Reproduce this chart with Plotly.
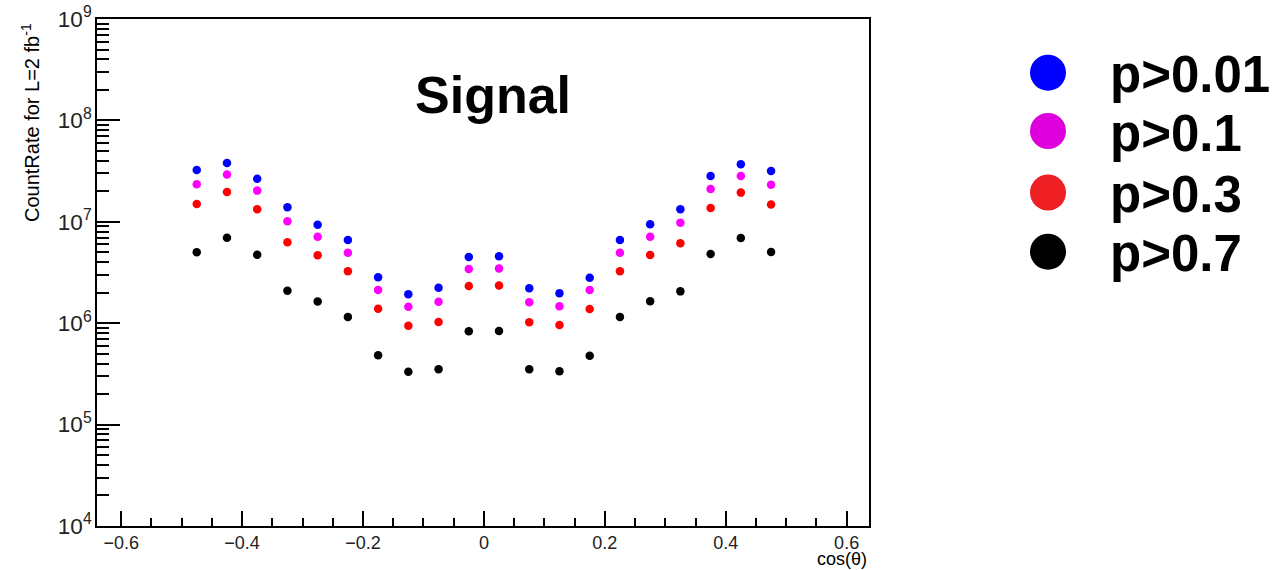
import plotly.graph_objects as go

# ---- data ----
cos_theta = [-0.475, -0.425, -0.375, -0.325, -0.275, -0.225, -0.175, -0.125, -0.075, -0.025,
             0.025, 0.075, 0.125, 0.175, 0.225, 0.275, 0.325, 0.375, 0.425, 0.475]

p001 = [3.24e7, 3.80e7, 2.66e7, 1.39e7, 9.36e6, 6.61e6, 2.84e6, 1.93e6, 2.24e6, 4.50e6,
        4.57e6, 2.21e6, 1.97e6, 2.81e6, 6.61e6, 9.44e6, 1.33e7, 2.83e7, 3.69e7, 3.17e7]
p01 = [2.34e7, 2.92e7, 2.03e7, 1.01e7, 7.13e6, 4.96e6, 2.13e6, 1.45e6, 1.63e6, 3.42e6,
       3.47e6, 1.61e6, 1.47e6, 2.12e6, 4.96e6, 7.13e6, 9.80e6, 2.11e7, 2.83e7, 2.32e7]
p03 = [1.50e7, 1.97e7, 1.33e7, 6.28e6, 4.67e6, 3.25e6, 1.39e6, 9.45e5, 1.03e6, 2.33e6,
       2.35e6, 1.02e6, 9.60e5, 1.38e6, 3.25e6, 4.70e6, 6.14e6, 1.37e7, 1.94e7, 1.48e7]
p07 = [5.00e6, 6.97e6, 4.74e6, 2.09e6, 1.64e6, 1.15e6, 4.82e5, 3.32e5, 3.51e5, 8.32e5,
       8.38e5, 3.51e5, 3.35e5, 4.78e5, 1.15e6, 1.65e6, 2.06e6, 4.82e6, 6.92e6, 5.04e6]

series_labels = ["p>0.01", "p>0.1", "p>0.3", "p>0.7"]
series_values = [p001, p01, p03, p07]
point_colors = ["#0000FF", "#FF00FF", "#FF0000", "#000000"]
legend_colors = ["#0000FF", "#DD00DD", "#EE2024", "#000000"]

title_text = "Signal"
x_title = "cos(θ)"
y_title = "CountRate for L=2 fb<sup>-1</sup>"

FONT = "Liberation Sans, Arial, sans-serif"

fig = go.Figure()
for lab, vals, col in zip(series_labels, series_values, point_colors):
    fig.add_trace(go.Scatter(
        x=cos_theta, y=vals, mode="markers", name=lab, showlegend=False,
        marker=dict(color=col, size=8.5, line=dict(width=0)),
    ))

# plot area in pixels: left 97, right 869, top 19, bottom 526
L, R, T, B = 97, 869, 19, 526
W, H = 1278, 570
pw, ph = R - L, B - T

def px(x):
    return (x - L) / pw

def py(y):
    return (B - y) / ph

# manual legend (large markers)
legend_y = [72.7, 131.0, 192.5, 251.7]
shapes = []
annotations = []
for lab, col, yy in zip(series_labels, legend_colors, legend_y):
    shapes.append(dict(type="circle", xref="paper", yref="paper",
                       xsizemode="pixel", ysizemode="pixel",
                       xanchor=px(1048), yanchor=py(yy),
                       x0=-18, x1=18, y0=-18, y1=18,
                       fillcolor=col, line=dict(width=0)))
    annotations.append(dict(text=f"<b>{lab}</b>", xref="paper", yref="paper",
                            x=px(1108), y=py(yy + 2), xanchor="left", yanchor="middle",
                            showarrow=False, font=dict(family=FONT, size=51, color="black")))

annotations.append(dict(text=f"<b>{title_text}</b>", xref="paper", yref="paper",
                        x=px(493), y=py(95), xanchor="center", yanchor="middle",
                        showarrow=False, font=dict(family=FONT, size=52, color="black")))
annotations.append(dict(text=y_title, xref="paper", yref="paper", textangle=-90,
                        x=px(30), y=py(123), xanchor="center", yanchor="middle",
                        showarrow=False, font=dict(family=FONT, size=20, color="black")))
annotations.append(dict(text=x_title, xref="paper", yref="paper",
                        x=1.0, y=py(558.5), xanchor="right", yanchor="middle",
                        showarrow=False, font=dict(family=FONT, size=18, color="black")))

fig.update_layout(
    width=W, height=H,
    margin=dict(l=L, r=W - R, t=T, b=H - B, pad=0, autoexpand=False),
    paper_bgcolor="white", plot_bgcolor="white",
    font=dict(family=FONT, size=18, color="black"),
    shapes=shapes, annotations=annotations,
    xaxis=dict(
        range=[-0.64, 0.637], dtick=0.2, tick0=0, automargin=False,
        ticks="inside", ticklen=15, tickwidth=1.5, tickcolor="black",
        minor=dict(ticks="inside", ticklen=8, tickwidth=1.5, tickcolor="black", dtick=0.05, showgrid=False),
        showline=True, linecolor="black", linewidth=1.5, mirror=True,
        showgrid=False, zeroline=False,
        tickfont=dict(family=FONT, size=18, color="#222222"),
    ),
    yaxis=dict(
        type="log", range=[4, 9], dtick=1, automargin=False,
        exponentformat="power", showexponent="all",
        ticks="inside", ticklen=23, tickwidth=1.5, tickcolor="black",
        minor=dict(ticks="inside", ticklen=12, tickwidth=1.5, tickcolor="black", dtick="D1", showgrid=False),
        showline=True, linecolor="black", linewidth=1.5, mirror=True,
        showgrid=False, zeroline=False,
        tickfont=dict(family=FONT, size=18, color="#222222"),
    ),
)

fig.write_html(
    "out.html",
    config={"displayModeBar": False},
    post_script="document.body.style.margin='0';document.body.style.overflow='hidden';",
)
